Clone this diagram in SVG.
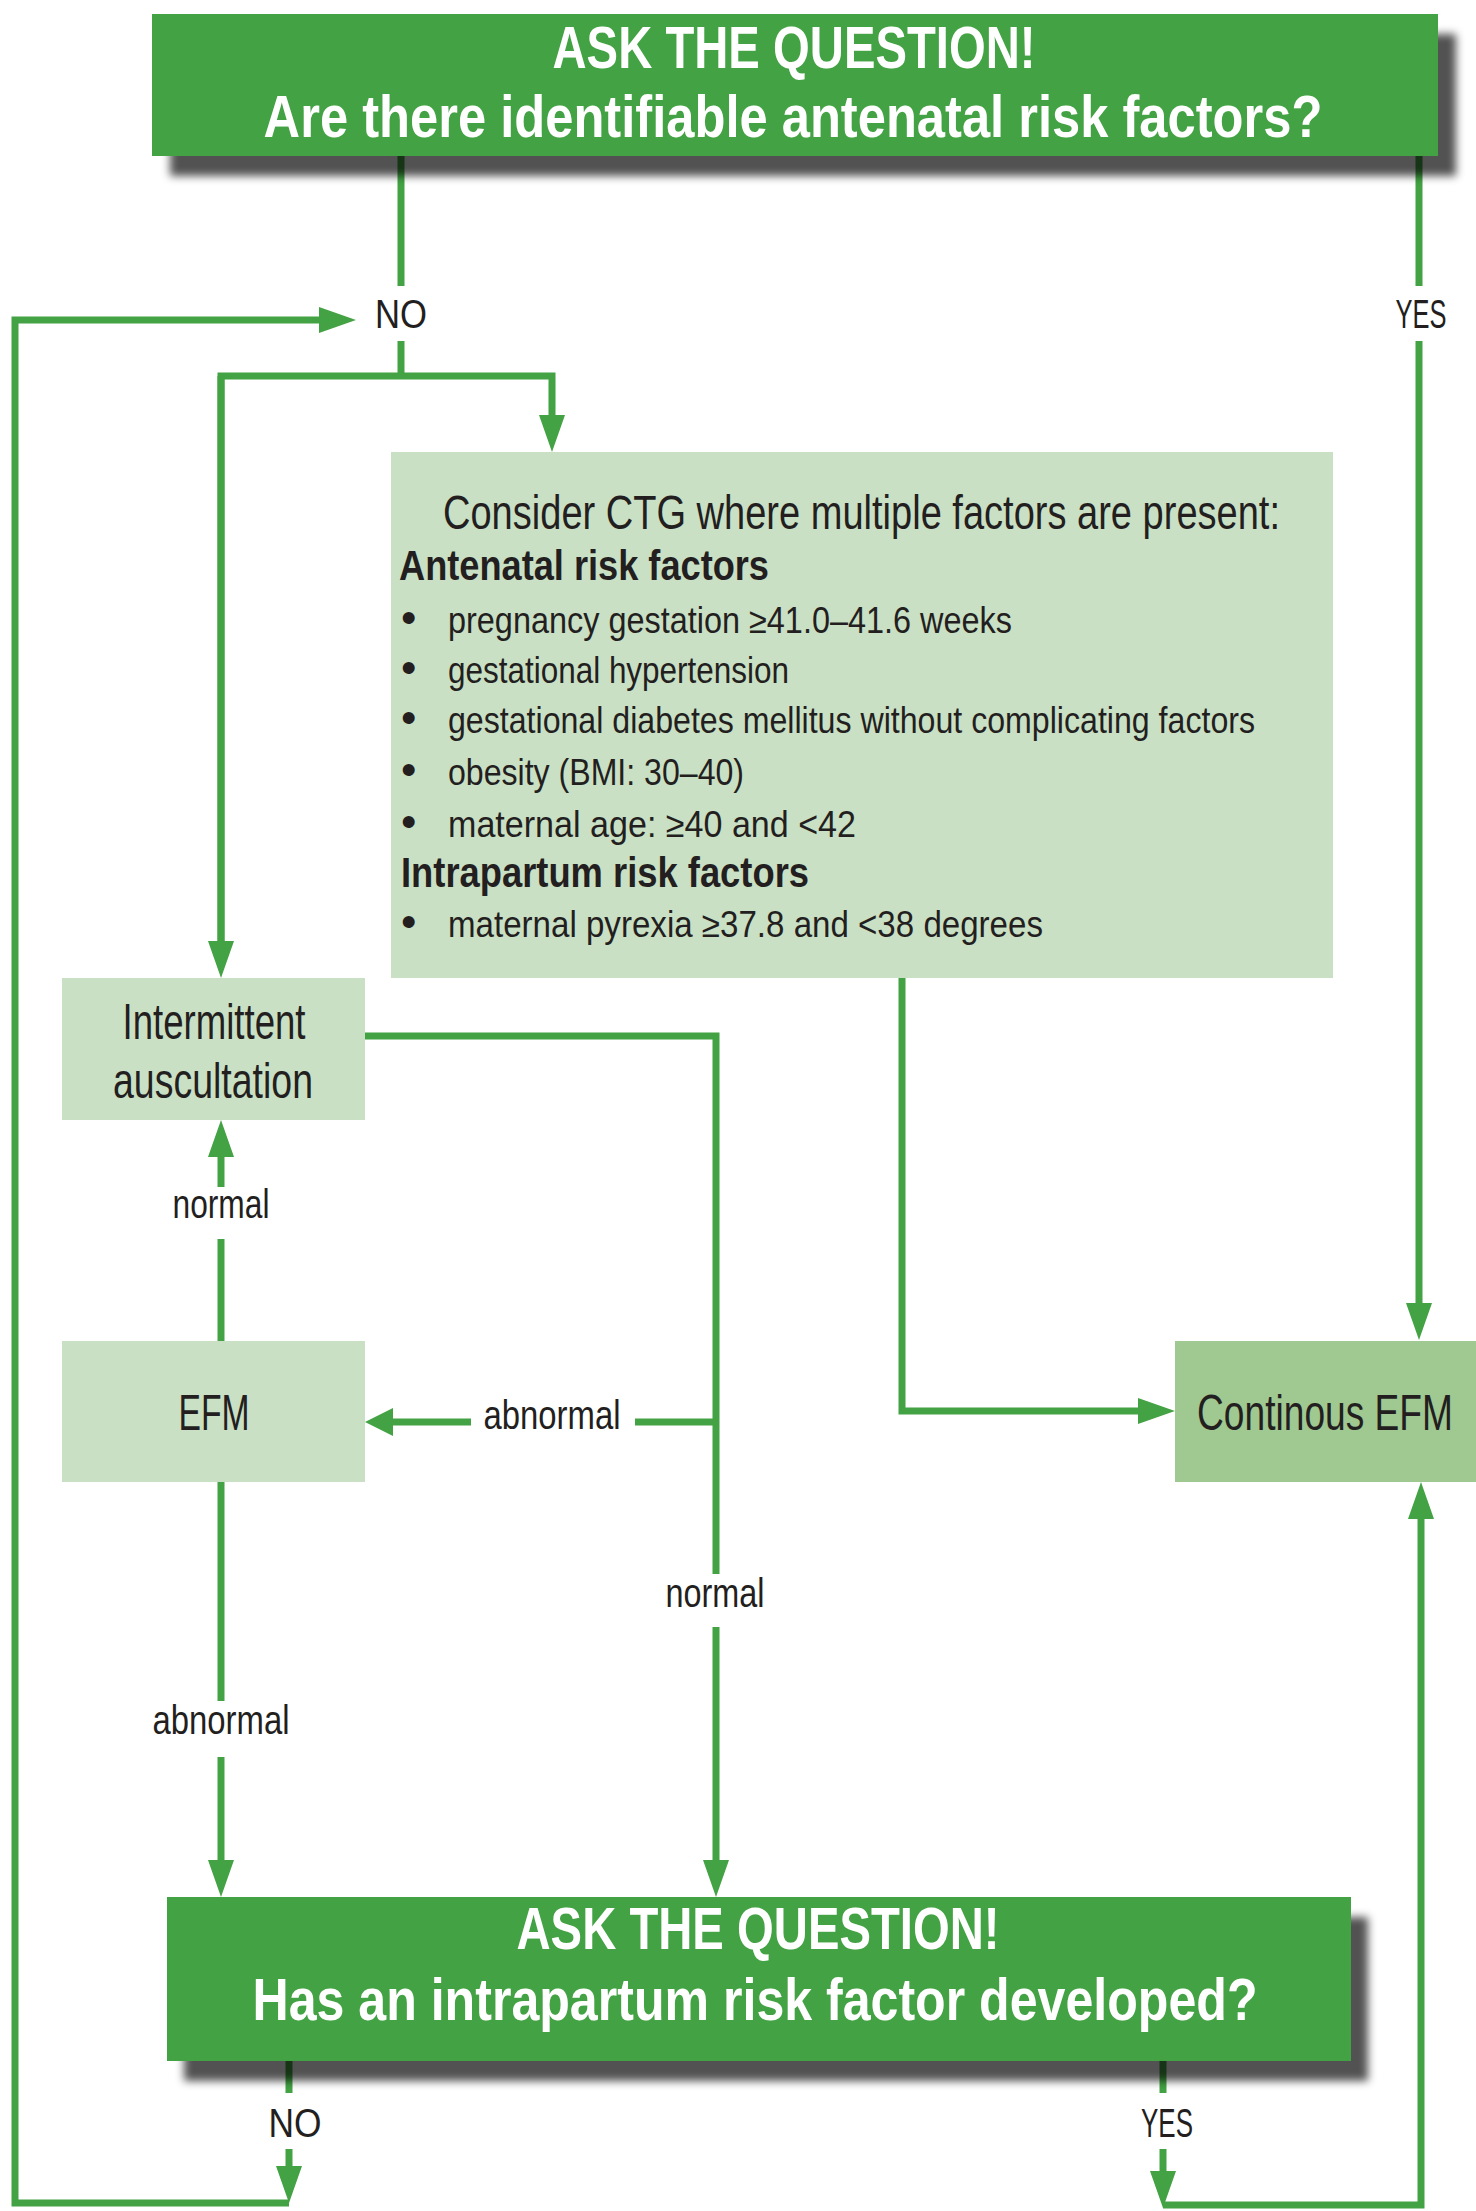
<svg xmlns="http://www.w3.org/2000/svg" width="1476" height="2211" viewBox="0 0 1476 2211">
<style>
.conn{fill:none;stroke:#43a243;stroke-width:7;stroke-linejoin:miter;stroke-linecap:butt}
.lbl{font-family:"Liberation Sans",Arial,sans-serif;font-size:40px;fill:#231f20;text-anchor:middle}
.ttl{font-family:"Liberation Sans",Arial,sans-serif;font-weight:bold;font-size:60px;fill:#ffffff;text-anchor:middle}
.banner{fill:#43a243}
.shadow{fill:#000000;fill-opacity:0.68}
.box{fill:#cae0c5}
.box2{fill:#a0c891}
.txt{font-family:"Liberation Sans",Arial,sans-serif;fill:#231f20}
.big{font-size:50px;text-anchor:middle}
.body{font-size:36px}
.head{font-size:42px;font-weight:bold}
.bul{font-size:44px}
</style>
<defs>
<marker id="ah" markerUnits="userSpaceOnUse" markerWidth="37" markerHeight="26" viewBox="0 0 37 26" refX="0" refY="13" orient="auto">
<path d="M0,0 L37,13 L0,26 z" fill="#43a243"/>
</marker>
<marker id="ahs" markerUnits="userSpaceOnUse" markerWidth="28" markerHeight="28" viewBox="0 0 28 28" refX="0" refY="14" orient="auto">
<path d="M0,0 L28,14 L0,28 z" fill="#43a243"/>
</marker>
<filter id="blur" x="-5%" y="-30%" width="110%" height="160%">
<feGaussianBlur stdDeviation="4"/>
</filter>
</defs>
<rect width="1476" height="2211" fill="#ffffff"/>

<g id="connectors">
<path class="conn" d="M401,150 V286"/>
<path class="conn" d="M401,341 V376"/>
<path class="conn" d="M221,941 V376 H552 V415" marker-end="url(#ah)"/>
<path class="conn" d="M221,376 V941" marker-end="url(#ah)"/>
<path class="conn" d="M1419,150 V286"/>
<path class="conn" d="M1419,341 V1303" marker-end="url(#ah)"/>
<path class="conn" d="M902,978 V1411 H1138" marker-end="url(#ah)"/>
<path class="conn" d="M365,1036 H716 V1574"/>
<path class="conn" d="M716,1627 V1860" marker-end="url(#ah)"/>
<path class="conn" d="M716,1422 H635"/>
<path class="conn" d="M471,1422 H393" marker-end="url(#ahs)"/>
<path class="conn" d="M221,1341 V1239"/>
<path class="conn" d="M221,1187 V1157" marker-end="url(#ah)"/>
<path class="conn" d="M221,1482 V1701"/>
<path class="conn" d="M221,1757 V1860" marker-end="url(#ah)"/>
<path class="conn" d="M289,2055 V2093"/>
<path class="conn" d="M289,2149 V2166" marker-end="url(#ah)"/>
<path class="conn" d="M289,2203 H15 V320 H319" marker-end="url(#ah)"/>
<path class="conn" d="M1163,2055 V2093"/>
<path class="conn" d="M1163,2149 V2171" marker-end="url(#ah)"/>
<path class="conn" d="M1163,2205 H1421 V1519" marker-end="url(#ah)"/>
<text class="lbl" x="401" y="328" textLength="52" lengthAdjust="spacingAndGlyphs">NO</text>
<text class="lbl" x="1421" y="328" textLength="51" lengthAdjust="spacingAndGlyphs">YES</text>
<text class="lbl" x="221" y="1218" textLength="97" lengthAdjust="spacingAndGlyphs">normal</text>
<text class="lbl" x="552" y="1429" textLength="137" lengthAdjust="spacingAndGlyphs">abnormal</text>
<text class="lbl" x="715" y="1607" textLength="99" lengthAdjust="spacingAndGlyphs">normal</text>
<text class="lbl" x="221" y="1734" textLength="137" lengthAdjust="spacingAndGlyphs">abnormal</text>
<text class="lbl" x="295" y="2137" textLength="53" lengthAdjust="spacingAndGlyphs">NO</text>
<text class="lbl" x="1167" y="2137" textLength="52" lengthAdjust="spacingAndGlyphs">YES</text>
</g>

<g id="q1">
<rect class="shadow" x="170" y="34" width="1286" height="142" filter="url(#blur)"/>
<rect class="banner" x="152" y="14" width="1286" height="142"/>
<text class="ttl" x="794" y="68" textLength="483" lengthAdjust="spacingAndGlyphs">ASK THE QUESTION!</text>
<text class="ttl" transform="translate(793,137) scale(0.845,1)" x="0" y="0" textLength="1253" lengthAdjust="spacingAndGlyphs">Are there identifiable antenatal risk factors?</text>
</g>

<g id="ctg">
<rect class="box" x="391" y="452" width="942" height="526"/>
<text class="txt" transform="translate(443,529) scale(0.79,1)" x="0" y="0" font-size="48" textLength="1059.5" lengthAdjust="spacingAndGlyphs">Consider CTG where multiple factors are present:</text>
<text class="txt head" x="399" y="580" textLength="370" lengthAdjust="spacingAndGlyphs">Antenatal risk factors</text>
<text class="txt bul" x="401" y="633">•</text>
<text class="txt body" x="448" y="633" textLength="564" lengthAdjust="spacingAndGlyphs">pregnancy gestation ≥41.0–41.6 weeks</text>
<text class="txt bul" x="401" y="683">•</text>
<text class="txt body" x="448" y="683" textLength="341" lengthAdjust="spacingAndGlyphs">gestational hypertension</text>
<text class="txt bul" x="401" y="733">•</text>
<text class="txt body" x="448" y="733" textLength="807" lengthAdjust="spacingAndGlyphs">gestational diabetes mellitus without complicating factors</text>
<text class="txt bul" x="401" y="785">•</text>
<text class="txt body" x="448" y="785" textLength="296" lengthAdjust="spacingAndGlyphs">obesity (BMI: 30–40)</text>
<text class="txt bul" x="401" y="837">•</text>
<text class="txt body" x="448" y="837" textLength="408" lengthAdjust="spacingAndGlyphs">maternal age: ≥40 and &lt;42</text>
<text class="txt head" x="401" y="887" textLength="408" lengthAdjust="spacingAndGlyphs">Intrapartum risk factors</text>
<text class="txt bul" x="401" y="937">•</text>
<text class="txt body" x="448" y="937" textLength="595" lengthAdjust="spacingAndGlyphs">maternal pyrexia ≥37.8 and &lt;38 degrees</text>
</g>

<g id="ia">
<rect class="box" x="62" y="978" width="303" height="142"/>
<text class="txt big" x="214" y="1039" textLength="183" lengthAdjust="spacingAndGlyphs">Intermittent</text>
<text class="txt big" x="213" y="1098" textLength="200" lengthAdjust="spacingAndGlyphs">auscultation</text>
</g>

<g id="efm">
<rect class="box" x="62" y="1341" width="303" height="141"/>
<text class="txt big" x="214" y="1430" font-size="52" textLength="71" lengthAdjust="spacingAndGlyphs">EFM</text>
</g>

<g id="cefm">
<rect class="box2" x="1175" y="1341" width="301" height="141"/>
<text class="txt big" transform="translate(1325,1430) scale(0.742,1)" x="0" y="0" textLength="345" lengthAdjust="spacingAndGlyphs">Continous EFM</text>
</g>

<g id="q2">
<rect class="shadow" x="184" y="1917" width="1184" height="164" filter="url(#blur)"/>
<rect class="banner" x="167" y="1897" width="1184" height="164"/>
<text class="ttl" x="758" y="1949" textLength="483" lengthAdjust="spacingAndGlyphs">ASK THE QUESTION!</text>
<text class="ttl" x="755" y="2020" textLength="1005" lengthAdjust="spacingAndGlyphs">Has an intrapartum risk factor developed?</text>
</g>
</svg>
